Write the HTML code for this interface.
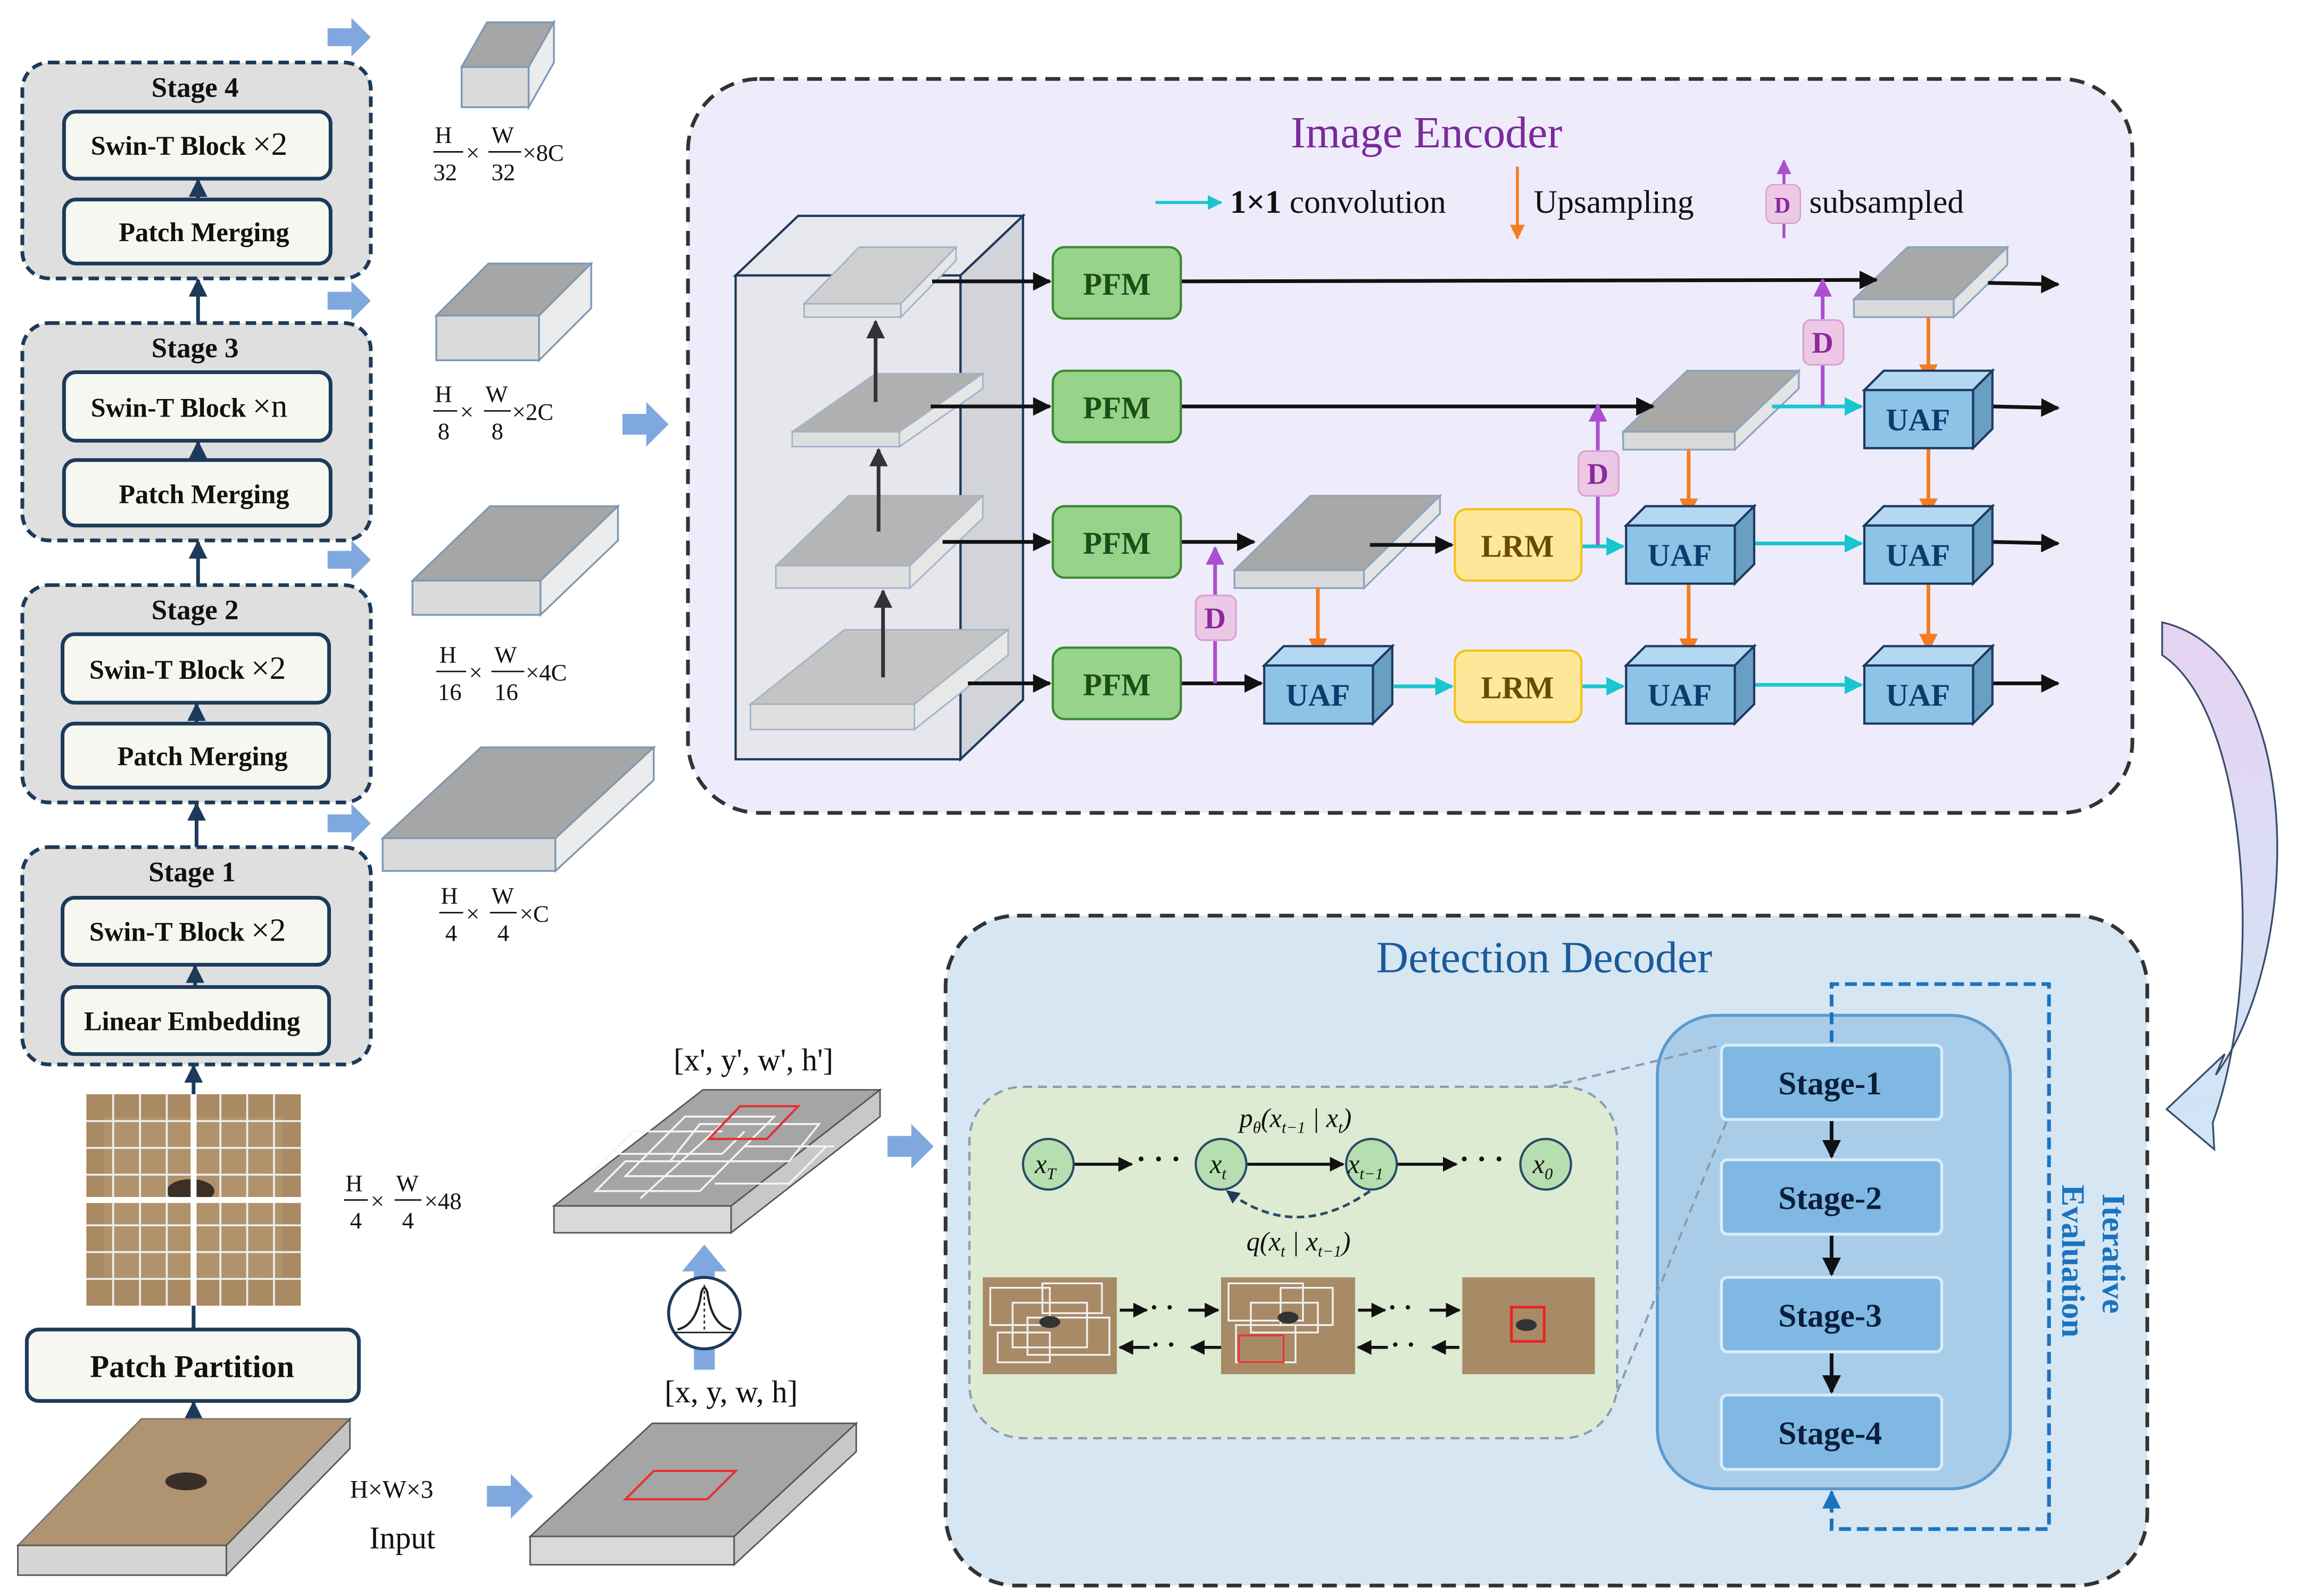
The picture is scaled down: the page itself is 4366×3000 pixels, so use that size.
<!DOCTYPE html>
<html><head><meta charset="utf-8"><style>html,body{margin:0;padding:0;background:#fff}svg{display:block}</style></head><body>
<svg width="4366" height="3000" viewBox="0 0 1560 1072" preserveAspectRatio="none" xmlns="http://www.w3.org/2000/svg" font-family="Liberation Serif, serif">
<defs>
<marker id="ab" viewBox="0 0 10 10" refX="9" refY="5" markerWidth="5" markerHeight="5" orient="auto"><path d="M0,0L10,5L0,10z" fill="#111"/></marker>
<marker id="ag" viewBox="0 0 10 10" refX="9" refY="5" markerWidth="5" markerHeight="5" orient="auto"><path d="M0,0L10,5L0,10z" fill="#333"/></marker>
<marker id="ac" viewBox="0 0 10 10" refX="9" refY="5" markerWidth="5" markerHeight="5" orient="auto"><path d="M0,0L10,5L0,10z" fill="#19c6cf"/></marker>
<marker id="ao" viewBox="0 0 10 10" refX="9" refY="5" markerWidth="5" markerHeight="5" orient="auto"><path d="M0,0L10,5L0,10z" fill="#f57c22"/></marker>
<marker id="ap" viewBox="0 0 10 10" refX="9" refY="5" markerWidth="5" markerHeight="5" orient="auto"><path d="M0,0L10,5L0,10z" fill="#a94fd0"/></marker>
<marker id="an" viewBox="0 0 10 10" refX="9" refY="5" markerWidth="5" markerHeight="5" orient="auto"><path d="M0,0L10,5L0,10z" fill="#1d3a5a"/></marker>
<marker id="al" viewBox="0 0 10 10" refX="9" refY="5" markerWidth="5" markerHeight="5" orient="auto"><path d="M0,0L10,5L0,10z" fill="#1a73c0"/></marker>
<linearGradient id="cg" x1="0" y1="0" x2="0" y2="1"><stop offset="0" stop-color="#e6d3f2"/><stop offset="1" stop-color="#cfe6f7"/></linearGradient>
</defs>

<g stroke="#1d3a5a" stroke-width="2.5">
<rect x="15" y="42" width="234" height="145" rx="18" fill="#dfdfdf" stroke-dasharray="7,4"/>
<rect x="15" y="217" width="234" height="146" rx="18" fill="#dfdfdf" stroke-dasharray="7,4"/>
<rect x="15" y="393" width="234" height="146" rx="18" fill="#dfdfdf" stroke-dasharray="7,4"/>
<rect x="15" y="569" width="234" height="146" rx="18" fill="#dfdfdf" stroke-dasharray="7,4"/>
<g fill="#f6f7f0">
<rect x="43" y="75" width="179" height="45" rx="8"/><rect x="43" y="134" width="179" height="43" rx="8"/>
<rect x="43" y="250" width="179" height="46" rx="8"/><rect x="43" y="309" width="179" height="44" rx="8"/>
<rect x="42" y="426" width="179" height="46" rx="8"/><rect x="42" y="486" width="179" height="43" rx="8"/>
<rect x="42" y="603" width="179" height="45" rx="8"/><rect x="42" y="663" width="179" height="45" rx="8"/>
<rect x="18" y="893" width="223" height="48" rx="8"/>
</g></g>
<g font-weight="bold" font-size="19" fill="#111" text-anchor="middle">
<text x="131" y="65">Stage 4</text><text x="131" y="240">Stage 3</text><text x="131" y="416">Stage 2</text><text x="129" y="592">Stage 1</text>
<text x="127" y="104" font-size="18">Swin-T Block <tspan font-weight="normal" font-size="22">×2</tspan></text>
<text x="137" y="162" font-size="18">Patch Merging</text>
<text x="127" y="280" font-size="18">Swin-T Block <tspan font-weight="normal" font-size="22">×n</tspan></text>
<text x="137" y="338" font-size="18">Patch Merging</text>
<text x="126" y="456" font-size="18">Swin-T Block <tspan font-weight="normal" font-size="22">×2</tspan></text>
<text x="136" y="514" font-size="18">Patch Merging</text>
<text x="126" y="632" font-size="18">Swin-T Block <tspan font-weight="normal" font-size="22">×2</tspan></text>
<text x="129" y="692" font-size="18">Linear Embedding</text>
<text x="129" y="925" font-size="21">Patch Partition</text>
</g>
<g stroke="#1d3a5a" stroke-width="2.5" marker-end="url(#an)">
<line x1="133" y1="134" x2="133" y2="121"/><line x1="133" y1="309" x2="133" y2="297"/><line x1="132" y1="486" x2="132" y2="473"/><line x1="131" y1="663" x2="131" y2="649"/>
<line x1="133" y1="217" x2="133" y2="188"/><line x1="133" y1="393" x2="133" y2="364"/><line x1="132" y1="569" x2="132" y2="540"/>
<line x1="130" y1="893" x2="130" y2="716"/><line x1="130" y1="1000" x2="130" y2="942"/>
</g>

<g fill="#7fa9de">
<path d="M220,19h16v-7l13,13l-13,13v-7h-16z"/><path d="M220,196h16v-7l13,13l-13,13v-7h-16z"/>
<path d="M220,370h16v-7l13,13l-13,13v-7h-16z"/><path d="M220,547h16v-7l13,13l-13,13v-7h-16z"/>
<path d="M418,278h16v-8l15,15l-15,15v-8h-16z"/>
<path d="M327,998h16v-8l15,15l-15,15v-8h-16z"/><path d="M596,763h16v-8l15,15l-15,15v-8h-16z"/>
<path d="M466,920v-14h14v14z"/>
<path d="M466,860v-6h-8l15,-18l15,18h-8v6z"/>
</g>

<g stroke="#7d98b5" stroke-width="1.2">
<polygon points="310,45 355,45 372,15 327,15" fill="#a6a6a6"/><rect x="310" y="45" width="45" height="27" fill="#dadada"/><polygon points="355,45 372,15 372,42 355,72" fill="#ececec"/>
<polygon points="293,212 362,212 397,177 328,177" fill="#a6a6a6"/><rect x="293" y="212" width="69" height="30" fill="#dadada"/><polygon points="362,212 397,177 397,207 362,242" fill="#ececec"/>
<polygon points="277,390 363,390 415,340 329,340" fill="#a6a6a6"/><rect x="277" y="390" width="86" height="23" fill="#dadada"/><polygon points="363,390 415,340 415,363 363,413" fill="#ececec"/>
<polygon points="257,563 373,563 439,502 323,502" fill="#a6a6a6"/><rect x="257" y="563" width="116" height="22" fill="#dadada"/><polygon points="373,563 439,502 439,524 373,585" fill="#ececec"/>
</g>
<g font-size="16" fill="#111">
<text x="292" y="96">H</text><line x1="291" y1="102" x2="311" y2="102" stroke="#111"/><text x="291" y="121">32</text><text x="313" y="108">×</text><text x="330" y="96">W</text><line x1="328" y1="102" x2="350" y2="102" stroke="#111"/><text x="330" y="121">32</text><text x="351" y="108">×8C</text>
<text x="292" y="270">H</text><line x1="291" y1="276" x2="307" y2="276" stroke="#111"/><text x="294" y="295">8</text><text x="309" y="282">×</text><text x="326" y="270">W</text><line x1="325" y1="276" x2="343" y2="276" stroke="#111"/><text x="330" y="295">8</text><text x="344" y="282">×2C</text>
<text x="295" y="445">H</text><line x1="293" y1="451" x2="313" y2="451" stroke="#111"/><text x="294" y="470">16</text><text x="315" y="457">×</text><text x="332" y="445">W</text><line x1="330" y1="451" x2="352" y2="451" stroke="#111"/><text x="332" y="470">16</text><text x="353" y="457">×4C</text>
<text x="296" y="607">H</text><line x1="295" y1="613" x2="311" y2="613" stroke="#111"/><text x="299" y="632">4</text><text x="313" y="619">×</text><text x="330" y="607">W</text><line x1="329" y1="613" x2="347" y2="613" stroke="#111"/><text x="334" y="632">4</text><text x="349" y="619">×C</text>
<text x="232" y="800">H</text><line x1="231" y1="806" x2="247" y2="806" stroke="#111"/><text x="235" y="825">4</text><text x="249" y="812">×</text><text x="266" y="800">W</text><line x1="265" y1="806" x2="283" y2="806" stroke="#111"/><text x="270" y="825">4</text><text x="285" y="812">×48</text>
<text x="235" y="1006" font-size="17">H×W×3</text><text x="248" y="1040" font-size="21">Input</text>
<text x="506" y="719" font-size="21" text-anchor="middle">[x', y', w', h']</text>
<text x="491" y="942" font-size="21" text-anchor="middle">[x, y, w, h]</text>
</g>

<rect x="58" y="735" width="144" height="142" fill="#a98a63"/>
<rect x="70" y="750" width="120" height="110" fill="#b89a72" opacity="0.6"/>
<ellipse cx="128" cy="800" rx="16" ry="8" fill="#3b2f26"/>
<g stroke="#eee" stroke-width="1.3">
<line x1="76" y1="735" x2="76" y2="877"/><line x1="94" y1="735" x2="94" y2="877"/><line x1="112" y1="735" x2="112" y2="877"/><line x1="148" y1="735" x2="148" y2="877"/><line x1="166" y1="735" x2="166" y2="877"/><line x1="184" y1="735" x2="184" y2="877"/>
<line x1="58" y1="753" x2="202" y2="753"/><line x1="58" y1="771" x2="202" y2="771"/><line x1="58" y1="789" x2="202" y2="789"/><line x1="58" y1="823" x2="202" y2="823"/><line x1="58" y1="841" x2="202" y2="841"/><line x1="58" y1="859" x2="202" y2="859"/>
</g>
<line x1="130" y1="735" x2="130" y2="877" stroke="#fff" stroke-width="4"/><line x1="58" y1="806" x2="202" y2="806" stroke="#fff" stroke-width="4"/>

<polygon points="12,1038 152,1038 235,953 95,953" fill="#b09370" stroke="#777"/>
<ellipse cx="125" cy="995" rx="14" ry="6" fill="#3a2f28"/>
<rect x="12" y="1038" width="140" height="20" fill="#d6d6d6" stroke="#555"/>
<polygon points="152,1038 235,953 235,973 152,1058" fill="#c4c4c4" stroke="#555"/>

<polygon points="356,1032 493,1032 575,956 438,956" fill="#a5a5a5" stroke="#555"/>
<rect x="356" y="1032" width="137" height="19" fill="#d9d9d9" stroke="#555"/>
<polygon points="493,1032 575,956 575,975 493,1051" fill="#c8c8c8" stroke="#555"/>
<polygon points="420,1007 475,1007 494,988 439,988" fill="none" stroke="#e53030" stroke-width="1.5"/>
<polygon points="372,810 491,810 591,732 472,732" fill="#a5a5a5" stroke="#555"/>
<rect x="372" y="810" width="119" height="18" fill="#d9d9d9" stroke="#555"/>
<polygon points="491,810 591,732 591,750 491,828" fill="#c8c8c8" stroke="#555"/>
<g stroke="#f4f4f4" stroke-width="1.3" fill="none">
<path d="M400,800h70l20,-20h-70zM420,790l40,-40h60l-40,40zM450,780h80l20,-25h-80zM395,790l30,-30h60M430,805l55,-50M500,770h60M480,795h50l25,-25M415,775h70l15,-15"/>
</g>
<polygon points="476,765 515,765 536,743 497,743" fill="none" stroke="#e53030" stroke-width="1.5"/>
<circle cx="473" cy="882" r="24" fill="#fff" stroke="#1d3a5a" stroke-width="2"/>
<path d="M455,893 Q468,890 471,868 Q473,862 475,868 Q478,890 491,893" fill="none" stroke="#222" stroke-width="1.5"/><line x1="473" y1="863" x2="473" y2="895" stroke="#222" stroke-dasharray="2,2"/><line x1="453" y1="895" x2="493" y2="895" stroke="#222"/>

<rect x="462" y="53" width="970" height="493" rx="48" fill="#eeecfb" stroke="#333" stroke-width="2.5" stroke-dasharray="10,6"/>
<text x="958" y="99" font-size="30" fill="#7a2a9a" text-anchor="middle">Image Encoder</text>
<line x1="776" y1="136" x2="820" y2="136" stroke="#19c6cf" stroke-width="2" marker-end="url(#ac)"/>
<text x="826" y="143" font-size="22" fill="#111"><tspan font-weight="bold">1×1</tspan> convolution</text>
<line x1="1019" y1="112" x2="1019" y2="160" stroke="#f57c22" stroke-width="2" marker-end="url(#ao)"/>
<text x="1030" y="143" font-size="22" fill="#111">Upsampling</text>
<line x1="1198" y1="160" x2="1198" y2="108" stroke="#a94fd0" stroke-width="2" marker-end="url(#ap)"/>
<rect x="1186" y="124" width="23" height="26" rx="5" fill="#ecc8e6" stroke="#d9a3d3"/><text x="1197" y="143" font-size="15" font-weight="bold" fill="#8a2a9a" text-anchor="middle">D</text>
<text x="1215" y="143" font-size="22" fill="#111">subsampled</text>

<polygon points="494,185 645,185 687,145 536,145" fill="#e7e7ee" stroke="#1d3a5a" stroke-width="1.5"/>
<polygon points="645,185 687,145 687,470 645,510" fill="#d3d3da" stroke="#1d3a5a" stroke-width="1.5"/>
<rect x="494" y="185" width="151" height="325" fill="#e6e6ea" stroke="#1d3a5a" stroke-width="1.5" fill-opacity="0.9"/>
<g stroke="#9fb3c8" stroke-width="1">
<polygon points="540,204 605,204 642,166 577,166" fill="#cfcfcf"/><rect x="540" y="204" width="65" height="9" fill="#e0e0e0"/><polygon points="605,204 642,166 642,175 605,213" fill="#e6e6e6"/>
<polygon points="532,290 604,290 660,251 588,251" fill="#b0b0b0"/><rect x="532" y="290" width="72" height="10" fill="#dedede"/><polygon points="604,290 660,251 660,261 604,300" fill="#e6e6e6"/>
<polygon points="521,380 611,380 660,333 570,333" fill="#b5b5b5"/><rect x="521" y="380" width="90" height="15" fill="#dedede"/><polygon points="611,380 660,333 660,348 611,395" fill="#e6e6e6"/>
<polygon points="504,473 614,473 677,423 567,423" fill="#c4c4c4"/><rect x="504" y="473" width="110" height="17" fill="#e0e0e0"/><polygon points="614,473 677,423 677,440 614,490" fill="#e8e8e8"/>
</g>
<g stroke="#333" stroke-width="2.5" marker-end="url(#ag)">
<line x1="588" y1="270" x2="588" y2="216"/><line x1="590" y1="357" x2="590" y2="302"/><line x1="593" y1="455" x2="593" y2="397"/>
</g>

<g stroke="#8ea4bd" stroke-width="1.2">
<polygon points="829,383 916,383 967,333 880,333" fill="#a8a8a8"/><rect x="829" y="383" width="87" height="12" fill="#dadada"/><polygon points="916,383 967,333 967,345 916,395" fill="#e4e4e4"/>
<polygon points="1090,290 1165,290 1208,249 1133,249" fill="#a8a8a8"/><rect x="1090" y="290" width="75" height="12" fill="#dadada"/><polygon points="1165,290 1208,249 1208,261 1165,302" fill="#e4e4e4"/>
<polygon points="1245,201 1312,201 1348,166 1281,166" fill="#a8a8a8"/><rect x="1245" y="201" width="67" height="12" fill="#dadada"/><polygon points="1312,201 1348,166 1348,178 1312,213" fill="#e4e4e4"/>
</g>

<g stroke="#111" stroke-width="2.5" marker-end="url(#ab)">
<line x1="626" y1="189" x2="705" y2="189"/><line x1="793" y1="189" x2="1260" y2="188"/><line x1="1335" y1="190" x2="1382" y2="191"/>
<line x1="625" y1="273" x2="705" y2="273"/><line x1="793" y1="273" x2="1110" y2="273"/><line x1="1338" y1="273" x2="1382" y2="274"/>
<line x1="633" y1="364" x2="705" y2="364"/><line x1="793" y1="364" x2="842" y2="364"/><line x1="920" y1="366" x2="975" y2="366"/><line x1="1338" y1="364" x2="1382" y2="365"/>
<line x1="650" y1="459" x2="705" y2="459"/><line x1="793" y1="459" x2="847" y2="459"/><line x1="1338" y1="459" x2="1382" y2="459"/>
</g>
<g stroke="#19c6cf" stroke-width="2.5" marker-end="url(#ac)">
<line x1="1190" y1="273" x2="1250" y2="273"/><line x1="1062" y1="367" x2="1090" y2="367"/><line x1="1178" y1="365" x2="1250" y2="365"/>
<line x1="936" y1="461" x2="975" y2="461"/><line x1="1062" y1="461" x2="1090" y2="461"/><line x1="1178" y1="460" x2="1250" y2="460"/>
</g>
<g stroke="#f57c22" stroke-width="2.5" marker-end="url(#ao)">
<line x1="885" y1="395" x2="885" y2="440"/><line x1="1134" y1="302" x2="1134" y2="346"/><line x1="1134" y1="392" x2="1134" y2="440"/>
<line x1="1295" y1="213" x2="1295" y2="256"/><line x1="1295" y1="300" x2="1295" y2="346"/><line x1="1295" y1="391" x2="1295" y2="437"/>
</g>
<g stroke="#a94fd0" stroke-width="2.5" marker-end="url(#ap)">
<line x1="816" y1="459" x2="816" y2="368"/><line x1="1073" y1="366" x2="1073" y2="272"/><line x1="1224" y1="273" x2="1224" y2="188"/>
</g>
<g fill="#ecc8e6" stroke="#d9a3d3" stroke-width="1.2">
<rect x="803" y="400" width="27" height="30" rx="5"/><rect x="1060" y="303" width="27" height="30" rx="5"/><rect x="1211" y="215" width="27" height="30" rx="5"/>
</g>
<g font-size="20" font-weight="bold" fill="#8a2a9a" text-anchor="middle"><text x="816" y="422">D</text><text x="1073" y="325">D</text><text x="1224" y="237">D</text></g>

<g fill="#97d38a" stroke="#3a8a30" stroke-width="1.5">
<rect x="707" y="166" width="86" height="48" rx="8"/><rect x="707" y="249" width="86" height="48" rx="8"/><rect x="707" y="340" width="86" height="48" rx="8"/><rect x="707" y="435" width="86" height="48" rx="8"/>
</g>
<g font-size="21" font-weight="bold" fill="#1d4d1a" text-anchor="middle"><text x="750" y="198">PFM</text><text x="750" y="281">PFM</text><text x="750" y="372">PFM</text><text x="750" y="467">PFM</text></g>
<g fill="#ffe79a" stroke="#f4c21a" stroke-width="1.5"><rect x="977" y="342" width="85" height="48" rx="8"/><rect x="977" y="437" width="85" height="48" rx="8"/></g>
<g font-size="21" font-weight="bold" fill="#6b4a00" text-anchor="middle"><text x="1019" y="374">LRM</text><text x="1019" y="469">LRM</text></g>
<g stroke="#1d3a5f" stroke-width="1.5">
<polygon points="849,447 922,447 935,434 862,434" fill="#b5d8f2"/><polygon points="922,447 935,434 935,473 922,486" fill="#6a9fc4"/><rect x="849" y="447" width="73" height="39" fill="#8ec3e8"/>
<polygon points="1092,447 1165,447 1178,434 1105,434" fill="#b5d8f2"/><polygon points="1165,447 1178,434 1178,473 1165,486" fill="#6a9fc4"/><rect x="1092" y="447" width="73" height="39" fill="#8ec3e8"/>
<polygon points="1252,447 1325,447 1338,434 1265,434" fill="#b5d8f2"/><polygon points="1325,447 1338,434 1338,473 1325,486" fill="#6a9fc4"/><rect x="1252" y="447" width="73" height="39" fill="#8ec3e8"/>
<polygon points="1092,353 1165,353 1178,340 1105,340" fill="#b5d8f2"/><polygon points="1165,353 1178,340 1178,379 1165,392" fill="#6a9fc4"/><rect x="1092" y="353" width="73" height="39" fill="#8ec3e8"/>
<polygon points="1252,353 1325,353 1338,340 1265,340" fill="#b5d8f2"/><polygon points="1325,353 1338,340 1338,379 1325,392" fill="#6a9fc4"/><rect x="1252" y="353" width="73" height="39" fill="#8ec3e8"/>
<polygon points="1252,262 1325,262 1338,249 1265,249" fill="#b5d8f2"/><polygon points="1325,262 1338,249 1338,288 1325,301" fill="#6a9fc4"/><rect x="1252" y="262" width="73" height="39" fill="#8ec3e8"/>
</g>
<g font-size="21" font-weight="bold" fill="#0d3b6e" text-anchor="middle">
<text x="885" y="474">UAF</text><text x="1128" y="474">UAF</text><text x="1288" y="474">UAF</text><text x="1128" y="380">UAF</text><text x="1288" y="380">UAF</text><text x="1288" y="289">UAF</text>
</g>

<path d="M1452,418 C1548,440 1548,640 1488,722 L1494,708 L1455,745 L1487,772 L1486,754 C1520,660 1512,480 1452,440 Z" fill="url(#cg)" stroke="#3a4e6a" stroke-width="1.2"/>

<rect x="635" y="615" width="807" height="450" rx="48" fill="#d6e6f2" stroke="#333" stroke-width="2.5" stroke-dasharray="10,6"/>
<text x="1037" y="653" font-size="30" fill="#1a5a99" text-anchor="middle">Detection Decoder</text>
<rect x="1113" y="682" width="237" height="318" rx="40" fill="#a9cde9" stroke="#5a9ad0" stroke-width="2"/>
<path d="M1230,700 V661 H1376 V1027 H1230 V1002" fill="none" stroke="#1a73c0" stroke-width="2.5" stroke-dasharray="8,4" marker-end="url(#al)"/>
<g fill="#7fb8e3" stroke="#d8ecf9" stroke-width="2">
<rect x="1156" y="702" width="148" height="50" rx="4"/><rect x="1156" y="779" width="148" height="50" rx="4"/><rect x="1156" y="858" width="148" height="50" rx="4"/><rect x="1156" y="937" width="148" height="50" rx="4"/>
</g>
<g font-size="22" font-weight="bold" fill="#0b1f3a" text-anchor="middle"><text x="1229" y="735">Stage-1</text><text x="1229" y="812">Stage-2</text><text x="1229" y="891">Stage-3</text><text x="1229" y="970">Stage-4</text></g>
<g stroke="#111" stroke-width="2.5" marker-end="url(#ab)"><line x1="1230" y1="753" x2="1230" y2="777"/><line x1="1230" y1="830" x2="1230" y2="856"/><line x1="1230" y1="909" x2="1230" y2="935"/></g>
<text x="1412" y="842" font-size="22" font-weight="bold" fill="#1a73c0" text-anchor="middle" transform="rotate(90 1412 842)">Iterative</text>
<text x="1385" y="847" font-size="22" font-weight="bold" fill="#1a73c0" text-anchor="middle" transform="rotate(90 1385 847)">Evaluation</text>

<rect x="651" y="730" width="435" height="236" rx="36" fill="#dcebd2" stroke="#8a9cb0" stroke-width="1.5" stroke-dasharray="6,4"/>
<g stroke="#8a9cb0" stroke-width="1.5" stroke-dasharray="6,4"><line x1="1040" y1="730" x2="1156" y2="702"/><line x1="1086" y1="935" x2="1160" y2="752"/></g>
<g stroke="#111" stroke-width="2" marker-end="url(#ab)" fill="none">
<line x1="721" y1="782" x2="760" y2="782"/><line x1="837" y1="782" x2="902" y2="782"/><line x1="938" y1="782" x2="978" y2="782"/>
</g>
<g font-size="20" font-weight="bold" fill="#111"><text x="763" y="785">· · ·</text><text x="980" y="785">· · ·</text></g>
<path d="M920,800 Q870,835 824,800" fill="none" stroke="#2a4a6a" stroke-width="1.8" stroke-dasharray="5,3" marker-end="url(#an)"/>
<g fill="#b7deb0" stroke="#2a4a6a" stroke-width="1.5"><circle cx="704" cy="782" r="17"/><circle cx="820" cy="782" r="17"/><circle cx="921" cy="782" r="17"/><circle cx="1038" cy="782" r="17"/></g>
<g font-size="18" font-style="italic" fill="#111" text-anchor="middle">
<text x="702" y="788">x<tspan font-size="11" dy="4">T</tspan></text><text x="818" y="788">x<tspan font-size="11" dy="4">t</tspan></text><text x="917" y="788">x<tspan font-size="11" dy="4">t−1</tspan></text><text x="1036" y="788">x<tspan font-size="11" dy="4">0</tspan></text>
<text x="870" y="757">p<tspan font-size="11" dy="4">θ</tspan><tspan dy="-4">(x</tspan><tspan font-size="11" dy="4">t−1</tspan><tspan dy="-4"> | x</tspan><tspan font-size="11" dy="4">t</tspan><tspan dy="-4">)</tspan></text>
<text x="872" y="840">q(x<tspan font-size="11" dy="4">t</tspan><tspan dy="-4"> | x</tspan><tspan font-size="11" dy="4">t−1</tspan><tspan dy="-4">)</tspan></text>
</g>
<rect x="660" y="858" width="90" height="65" fill="#a88a66"/><rect x="820" y="858" width="90" height="65" fill="#a88a66"/><rect x="982" y="858" width="89" height="65" fill="#a88a66"/>
<g fill="none" stroke="#f2f2f2" stroke-width="1.2"><path d="M665,865h40v25h-40zM680,875h50v30h-50zM670,895h35v20h-35zM700,862h40v20h-40zM690,885h55v25h-55zM825,862h50v25h-50zM840,875h45v20h-45zM830,890h40v25h-40zM860,865h35v25h-35z"/></g>
<rect x="832" y="897" width="30" height="18" fill="none" stroke="#e33" stroke-width="1.2"/>
<rect x="1015" y="878" width="22" height="23" fill="none" stroke="#e22" stroke-width="1.8"/>
<ellipse cx="1025" cy="890" rx="7" ry="4" fill="#333"/><ellipse cx="705" cy="888" rx="7" ry="4" fill="#333"/><ellipse cx="865" cy="885" rx="7" ry="4" fill="#333"/>
<g stroke="#111" stroke-width="2" marker-end="url(#ab)"><line x1="752" y1="880" x2="770" y2="880"/><line x1="798" y1="880" x2="818" y2="880"/><line x1="912" y1="880" x2="930" y2="880"/><line x1="960" y1="880" x2="980" y2="880"/>
<line x1="772" y1="905" x2="752" y2="905"/><line x1="820" y1="905" x2="800" y2="905"/><line x1="932" y1="905" x2="912" y2="905"/><line x1="980" y1="905" x2="962" y2="905"/></g>
<g font-size="18" font-weight="bold" fill="#111"><text x="772" y="884">· ·</text><text x="932" y="884">· ·</text><text x="773" y="909">· ·</text><text x="934" y="909">· ·</text></g>
</svg>
</body></html>
